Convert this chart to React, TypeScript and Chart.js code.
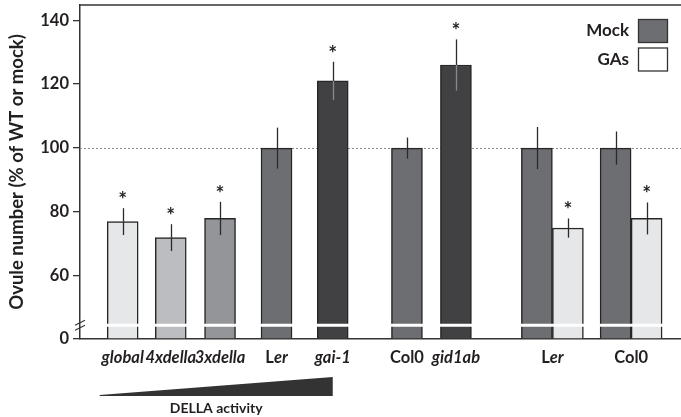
import React, { useEffect, useRef } from 'react';
import { Chart, registerables } from 'chart.js';
Chart.register(...registerables);

// ---- data ----
const singleLabels = ['global', '4xdella', '3xdella', 'Ler', 'gai-1', 'Col0', 'gid1ab'];
const singlePositions = [7.1, 15.1, 23.3, 32.7, 42.05, 54.4, 62.55];
const singleValues = [77, 72, 78, 100, 121, 100, 126];
const singleErrors = [4.2, 4.2, 5.2, 6.4, 6, 3.3, 8];
const singleSig = [true, true, true, false, true, false, true];
const singleColors = ['#e6e7e8', '#bcbdc0', '#939598', '#6d6e71', '#414042', '#6d6e71', '#414042'];

const pairLabels = ['Ler', 'Col0'];
const pairPositions = [78.6, 91.7];
const mockValues = [100, 100];
const mockErrors = [6.6, 5.2];
const mockSig = [false, false];
const gasValues = [75, 78];
const gasErrors = [3, 5];
const gasSig = [true, true];

const yTickValues = [60, 80, 100, 120, 140];
const yBreakLabel = '0';
const Y_MIN = 40.3;
const Y_MAX = 144.75;
const REF_LINE = 100;

const FONT = 'Lato, "Open Sans", sans-serif';
const INK = '#231f20';

// label segments: [text, italic]
function labelSegments(name: string): [string, boolean][] {
  if (name === 'Ler') return [['L', false], ['er', true]];
  if (name === 'Col0') return [['Col0', false]];
  return [[name, true]];
}

const customPlugin = {
  id: 'custom',
  beforeDatasetsDraw(chart: any) {
    const { ctx, chartArea, scales } = chart;
    const y = Math.round(scales.y.getPixelForValue(REF_LINE)) + 0.5;
    ctx.save();
    ctx.strokeStyle = '#8c8c8c';
    ctx.lineWidth = 1;
    ctx.setLineDash([2, 2]);
    ctx.beginPath();
    ctx.moveTo(chartArea.left, y);
    ctx.lineTo(chartArea.right, y);
    ctx.stroke();
    ctx.restore();
  },
  afterDatasetsDraw(chart: any) {
    const { ctx, chartArea, scales } = chart;
    const ys = scales.y;
    const yb = ys.getPixelForValue(44.6);
    ctx.save();
    ctx.fillStyle = '#ffffff';
    ctx.fillRect(chartArea.left + 1, yb - 1.5, chartArea.right - chartArea.left - 1, 3);

    const errs = [singleErrors, mockErrors, gasErrors];
    const vals = [singleValues, mockValues, gasValues];
    const sigs = [singleSig, mockSig, gasSig];
    const dark = [singleColors.map((c) => c === '#414042'), [false, false], [false, false]];
    chart.data.datasets.forEach((_d: any, di: number) => {
      const meta = chart.getDatasetMeta(di);
      meta.data.forEach((el: any, i: number) => {
        const v = vals[di][i];
        const e = errs[di][i];
        const x = Math.round(el.x) + 0.5;
        const yt = ys.getPixelForValue(v + e);
        const ybt = ys.getPixelForValue(v - e);
        const ybar = ys.getPixelForValue(v);
        ctx.lineWidth = 1.3;
        ctx.strokeStyle = '#2b2b2b';
        ctx.beginPath();
        ctx.moveTo(x, yt);
        ctx.lineTo(x, ybar);
        ctx.stroke();
        ctx.strokeStyle = dark[di][i] ? '#8a8a8c' : '#2b2b2b';
        ctx.beginPath();
        ctx.moveTo(x, ybar);
        ctx.lineTo(x, ybt);
        ctx.stroke();
        if (sigs[di][i]) {
          ctx.font = `bold 21px ${FONT}`;
          ctx.fillStyle = INK;
          ctx.textAlign = 'center';
          ctx.textBaseline = 'alphabetic';
          const m = ctx.measureText('*');
          const cy = yt - 13;
          const base = cy + (m.actualBoundingBoxAscent - m.actualBoundingBoxDescent) / 2;
          ctx.fillText('*', el.x, base);
        }
      });
    });
    ctx.restore();
  },
  afterDraw(chart: any) {
    const { ctx, chartArea, scales } = chart;
    const ys = scales.y;
    ctx.save();
    ctx.strokeStyle = '#333333';
    ctx.lineWidth = 1.5;
    ctx.beginPath();
    ctx.moveTo(chartArea.left - 0.75, chartArea.top);
    ctx.lineTo(chartArea.right, chartArea.top);
    ctx.stroke();

    const yb = ys.getPixelForValue(44.6);
    ctx.lineWidth = 1.2;
    ctx.strokeStyle = '#333333';
    for (const off of [-2.5, 2.5]) {
      ctx.beginPath();
      ctx.moveTo(chartArea.left - 5, yb + off + 2.5);
      ctx.lineTo(chartArea.left + 5, yb + off - 2.5);
      ctx.stroke();
    }

    const LBL = 16.5;
    const drawLabel = (name: string, cx: number, cy: number) => {
      const segs = labelSegments(name);
      ctx.textBaseline = 'middle';
      ctx.textAlign = 'left';
      let total = 0;
      const widths = segs.map(([t, it]) => {
        ctx.font = `${it ? 'italic ' : ''}bold ${LBL}px ${FONT}`;
        const w = ctx.measureText(t).width;
        total += w;
        return w;
      });
      let x = cx - total / 2;
      segs.forEach(([t, it], k) => {
        ctx.font = `${it ? 'italic ' : ''}bold ${LBL}px ${FONT}`;
        ctx.fillStyle = INK;
        ctx.fillText(t, x, cy);
        x += widths[k];
      });
    };
    const ly = chartArea.bottom + 19;
    const m0 = chart.getDatasetMeta(0);
    m0.data.forEach((el: any, i: number) => drawLabel(singleLabels[i], el.x, ly));
    pairPositions.forEach((p, i) => drawLabel(pairLabels[i], scales.x.getPixelForValue(p), ly));

    const xl = m0.data[0].x - 23;
    const xr = m0.data[4].x;
    const wb = chartArea.bottom + 57;
    ctx.fillStyle = '#333333';
    ctx.beginPath();
    ctx.moveTo(xl, wb - 1);
    ctx.lineTo(xr, wb - 19);
    ctx.lineTo(xr, wb);
    ctx.lineTo(xl, wb);
    ctx.closePath();
    ctx.fill();
    ctx.font = `bold 14px ${FONT}`;
    ctx.fillStyle = INK;
    ctx.textAlign = 'center';
    ctx.textBaseline = 'middle';
    ctx.fillText('DELLA activity', (xl + xr) / 2, chartArea.bottom + 69);

    const items = [
      { label: chart.data.datasets[1].label, fill: '#6d6e71', y: 31 },
      { label: chart.data.datasets[2].label, fill: '#ffffff', y: 59.5 },
    ];
    items.forEach((it) => {
      ctx.font = `bold 17px ${FONT}`;
      ctx.fillStyle = INK;
      ctx.textAlign = 'right';
      ctx.textBaseline = 'middle';
      ctx.fillText(it.label, chartArea.right - 52, it.y);
      ctx.fillStyle = it.fill;
      ctx.fillRect(chartArea.right - 42.5, it.y - 11.5, 29, 23);
      ctx.strokeStyle = '#333333';
      ctx.lineWidth = 1.3;
      ctx.strokeRect(chartArea.right - 42.5, it.y - 11.5, 29, 23);
    });
    ctx.restore();
  },
};

export default function App() {
  const ref = useRef<HTMLCanvasElement>(null);
  useEffect(() => {
    const canvas = ref.current;
    if (!canvas) return;
    const common = {
      borderColor: '#262626',
      borderWidth: 1.5,
      borderSkipped: 'bottom',
      base: Y_MIN,
      clip: 0,
      barThickness: 31,
      maxBarThickness: 31,
    };
    const chart = new Chart(canvas, {
      type: 'bar',
      data: {
        datasets: [
          {
            ...common,
            label: 'genotype',
            grouped: false,
            data: singlePositions.map((x, i) => ({ x, y: singleValues[i] })),
            backgroundColor: singleColors,
          } as any,
          {
            ...common,
            label: 'Mock',
            data: pairPositions.map((x, i) => ({ x, y: mockValues[i] })),
            backgroundColor: '#6d6e71',
          } as any,
          {
            ...common,
            label: 'GAs',
            data: pairPositions.map((x, i) => ({ x, y: gasValues[i] })),
            backgroundColor: '#e6e7e8',
          } as any,
        ],
      },
      options: {
        animation: false,
        responsive: true,
        maintainAspectRatio: false,
        layout: { padding: { top: 5, left: 0, right: 0, bottom: 0 } },
        plugins: { legend: { display: false }, tooltip: { enabled: false } },
        scales: {
          x: {
            type: 'linear',
            min: 0,
            max: 100,
            offset: false,
            ticks: { display: false },
            grid: { offset: false, drawOnChartArea: false, drawTicks: false, color: '#333' },
            border: { display: true, color: '#333', width: 1.5 },
            afterFit: (s: any) => {
              s.height = 78;
              s.paddingLeft = 0;
              s.paddingRight = 0;
              s.paddingTop = 0;
              s.paddingBottom = 0;
            },
          },
          y: {
            type: 'linear',
            min: Y_MIN,
            max: Y_MAX,
            afterBuildTicks: (s: any) => {
              s.ticks = [Y_MIN, ...yTickValues].map((v) => ({ value: v }));
            },
            ticks: {
              color: INK,
              font: { family: FONT, size: 16.5, weight: 'bold' },
              padding: 4,
              callback: (v: any) => (v < 50 ? yBreakLabel : String(v)),
            },
            grid: { drawOnChartArea: false, drawTicks: true, tickLength: 7, color: '#333', lineWidth: 1.3 },
            border: { display: true, color: '#333', width: 1.5 },
            title: {
              display: true,
              text: 'Ovule number (% of WT or mock)',
              color: INK,
              font: { family: FONT, size: 18.5, weight: 'bold' },
              padding: { top: 5.5, bottom: 0 },
            },
            afterFit: (s: any) => {
              s.width = 80;
              s.paddingTop = 0;
              s.paddingBottom = 0;
              s.paddingLeft = 0;
              s.paddingRight = 0;
            },
          },
        },
      } as any,
      plugins: [customPlugin],
    });
    return () => chart.destroy();
  }, []);
  return (
    <div style={{ position: 'fixed', left: 0, top: 0, width: 681, height: 417, background: '#fff' }}>
      <canvas ref={ref} />
    </div>
  );
}
